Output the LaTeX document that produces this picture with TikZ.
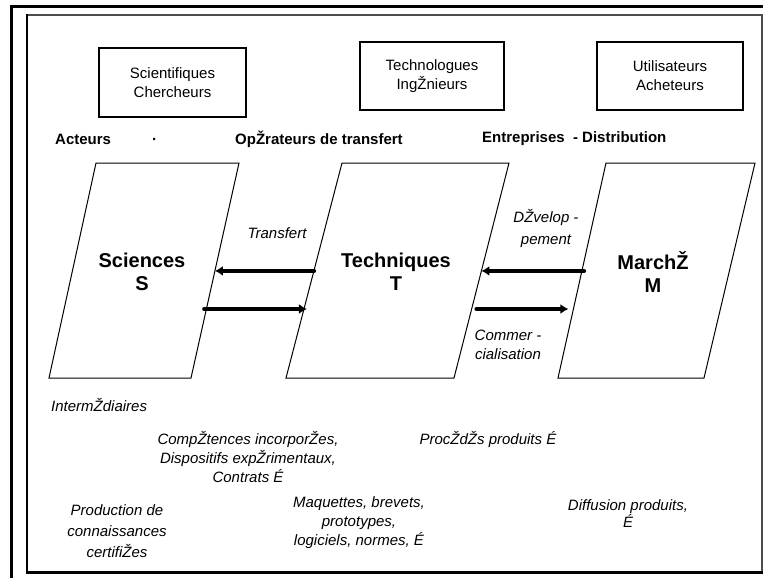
\documentclass[tikz,border=0pt]{standalone}
\usepackage{fontspec}
\setmainfont{Liberation Sans}
\usetikzlibrary{arrows.meta,calc}
\begin{document}
\begin{tikzpicture}[x=1pt,y=-1pt,
  actorbox/.style={draw, line width=1.1pt, inner sep=0pt, align=center,
    font=\fontsize{15}{19}\selectfont},
  rowlabel/.style={anchor=west, inner sep=0pt, font=\bfseries\fontsize{15}{18}\selectfont},
  domainlabel/.style={align=center, inner sep=0pt, font=\bfseries\fontsize{20}{23}\selectfont},
  para/.style={draw, line width=1pt, line join=miter},
  flow/.style={line width=4.5pt, line cap=round, -{Latex[length=8pt,width=10pt]}},
  note/.style={align=center, inner sep=0pt, font=\itshape\fontsize{15}{19}\selectfont}]
\useasboundingbox (0,0) rectangle (763,578);
\fill[white] (0,0) rectangle (763,578);
% frame
\draw[line width=3pt] (11.5,578) -- (11.5,6.5) -- (763,6.5);
\draw[line width=1.4pt, black!70] (26.5,15) -- (762,15) -- (762,572);
\draw[line width=2pt] (26.5,572) -- (26.5,14);
\draw[line width=3pt] (25.5,572) -- (763,572);
% actor boxes
\node[actorbox, minimum width=147pt, minimum height=69pt] (sci) at (172.5,82.5) {Scientifiques\\Chercheurs};
\node[actorbox, minimum width=144pt, minimum height=68pt] (tech) at (432,76) {Technologues\\IngŽnieurs};
\node[actorbox, minimum width=146pt, minimum height=68pt] (util) at (670,76) {Utilisateurs\\Acheteurs};
% row labels
\node[rowlabel] (acteurs) at (55,139) {Acteurs};
\node[rowlabel] (dot) at (152,141) {·};
\node[rowlabel] (oper) at (235,139) {OpŽrateurs de transfert};
\node[rowlabel] (entr) at (482,139) {Entreprises\ \ - Distribution};
% parallelograms
\coordinate (p1tl) at (96,163);  \coordinate (p1tr) at (239,163);
\coordinate (p1br) at (191,378); \coordinate (p1bl) at (49,378);
\coordinate (p2tl) at (342,163); \coordinate (p2tr) at (509,163);
\coordinate (p2br) at (454,378); \coordinate (p2bl) at (286,378);
\coordinate (p3tl) at (606,163); \coordinate (p3tr) at (755,163);
\coordinate (p3br) at (704,378); \coordinate (p3bl) at (558,378);
\draw[para] (p1tl) -- (p1tr) -- (p1br) -- (p1bl) -- cycle;
\draw[para] (p2tl) -- (p2tr) -- (p2br) -- (p2bl) -- cycle;
\draw[para] (p3tl) -- (p3tr) -- (p3br) -- (p3bl) -- cycle;
\node[domainlabel] (S) at (142,271.5) {Sciences\\S};
\node[domainlabel] (T) at (396,272) {Techniques\\T};
\node[domainlabel] (M) at (653,272) {MarchŽ\\M};
% arrow end points on the edges
\coordinate (s1) at ($(p1tr)!0.502!(p1br)$);
\coordinate (s2) at ($(p1tr)!0.679!(p1br)$);
\coordinate (t1) at ($(p2tl)!0.502!(p2bl)$);
\coordinate (t2) at ($(p2tl)!0.679!(p2bl)$);
\coordinate (t3) at ($(p2tr)!0.502!(p2br)$);
\coordinate (t4) at ($(p2tr)!0.679!(p2br)$);
\coordinate (m1) at ($(p3tl)!0.502!(p3bl)$);
\coordinate (m2) at ($(p3tl)!0.679!(p3bl)$);
\draw[flow] (t1) -- (s1);
\draw[flow, shorten <=-2pt, shorten >=-3pt] (s2) -- (t2);
\draw[flow, shorten <=-2pt] (m1) -- (t3);
\draw[flow, shorten <=5pt, shorten >=5pt] (t4) -- (m2);
% flow labels
\node[note] (ltransfert) at (277,233) {Transfert};
\node[note, font=\itshape\fontsize{15}{21}\selectfont] (ldev) at (546,228.5) {DŽvelop -\\pement};
\node[note] (lcom) at (508,344.5) {Commer -\\cialisation};
% bottom notes
\node[note, anchor=west] (interm) at (51,405) {IntermŽdiaires};
\node[note] (comp) at (248,457) {CompŽtences incorporŽes,\\Dispositifs expŽrimentaux,\\Contrats É};
\node[note] (proc) at (488,439) {ProcŽdŽs produits É};
\node[note, font=\itshape\fontsize{15}{21}\selectfont] (prod) at (117,531) {Production de\\connaissances\\certifiŽes};
\node[note] (maq) at (359,523) {Maquettes, brevets,\\prototypes,\\logiciels, normes, É};
\node[note, font=\itshape\fontsize{15}{17}\selectfont] (diff) at (628,514) {Diffusion produits,\\É};
\end{tikzpicture}
\end{document}
